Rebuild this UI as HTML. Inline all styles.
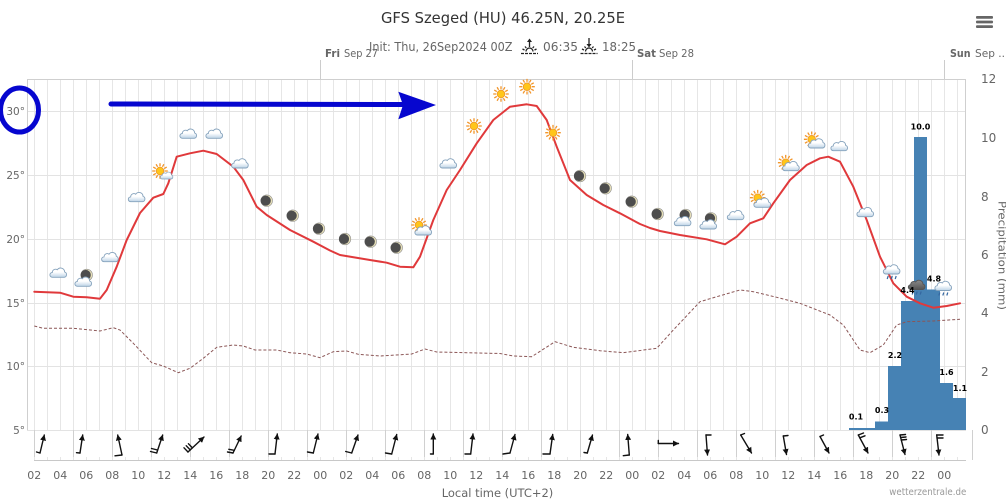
<!DOCTYPE html>
<html><head><meta charset="utf-8"><style>
html,body{margin:0;padding:0;background:#fff;}
svg{display:block;}
text{font-family:"DejaVu Sans","Liberation Sans",sans-serif;}
</style></head><body>
<svg width="1006" height="500" viewBox="0 0 1006 500" xmlns="http://www.w3.org/2000/svg">
<defs>
<linearGradient id="cg" x1="0" y1="0" x2="0" y2="1"><stop offset="0.45" stop-color="#ffffff"/><stop offset="1" stop-color="#bcd3e6"/></linearGradient>
<linearGradient id="dg" x1="0" y1="0" x2="0" y2="1"><stop offset="0" stop-color="#8a8a8a"/><stop offset="1" stop-color="#555"/></linearGradient>
<pattern id="vg" x="34" y="0" width="13" height="500" patternUnits="userSpaceOnUse"><rect x="0" y="0" width="1" height="500" fill="#e6e6e6"/></pattern>
<marker id="ah" markerWidth="6" markerHeight="6" refX="5.5" refY="3" orient="auto" markerUnits="userSpaceOnUse"><path d="M0,0 L6,3 L0,6 z" fill="#111"/></marker>
<g id="cl"><path d="M-6,4 H6 A2.8,2.8 0 0 0 6.3,-1.4 A4,4 0 0 0 -1,-3.5 A3.2,3.2 0 0 0 -6,-0.8 A2.4,2.4 0 0 0 -6,4 Z" fill="url(#cg)" stroke="#86a3bd" stroke-width="0.9"/></g>
<g id="sn"><path d="M4.8,0H7.8 M4.16,2.4L6.75,3.9 M2.4,4.16L3.9,6.75 M0,4.8V7.8 M-2.4,4.16L-3.9,6.75 M-4.16,2.4L-6.75,3.9 M-4.8,0H-7.8 M-4.16,-2.4L-6.75,-3.9 M-2.4,-4.16L-3.9,-6.75 M0,-4.8V-7.8 M2.4,-4.16L3.9,-6.75 M4.16,-2.4L6.75,-3.9" stroke="#f2952a" stroke-width="1.3"/><circle r="3.8" fill="#ffc61a" stroke="#f09a2a" stroke-width="0.9"/></g>
<g id="mn"><circle r="5.8" fill="#e6dfb8" stroke="#8a8a8a" stroke-width="0.6"/><circle cx="-1" r="5.1" fill="#4d4d4d"/></g>
<g id="rc"><use href="#cl"/><path d="M-3.5,6 L-4.5,9 M0.5,6 L-0.5,9 M4.5,6 L3.5,9" stroke="#3567a0" stroke-width="1.2"/></g>
<g id="dc"><path d="M-6,4 H6 A2.8,2.8 0 0 0 6.3,-1.4 A4,4 0 0 0 -1,-3.5 A3.2,3.2 0 0 0 -6,-0.8 A2.4,2.4 0 0 0 -6,4 Z" fill="url(#dg)" stroke="#555" stroke-width="0.9"/><path d="M-3.5,6 L-4.5,9 M0.5,6 L-0.5,9 M4.5,6 L3.5,9" stroke="#3567a0" stroke-width="1.2"/></g>
</defs>

<!-- title -->
<text x="381" y="23" font-size="15" fill="#333" textLength="244" lengthAdjust="spacingAndGlyphs">GFS Szeged (HU) 46.25N, 20.25E</text>
<text x="369" y="51" font-size="12" fill="#666" textLength="143.5" lengthAdjust="spacingAndGlyphs">Init: Thu, 26Sep2024 00Z</text>
<g stroke="#222" stroke-width="1.3" fill="none">
<path d="M529.5,47 V41"/><path d="M526,51.5 A3.5,3.5 0 0 1 533,51.5"/><path d="M522.5,49 L524.5,50 M536.5,49 L534.5,50 M525,46.5 L526.3,48 M534,46.5 L532.7,48"/><path d="M521,53.5 H538" stroke-dasharray="3 1"/>
<path d="M589,38 V45"/><path d="M585.5,51.5 A3.5,3.5 0 0 1 592.5,51.5"/><path d="M582,49 L584,50 M596,49 L594,50 M584.5,46.5 L585.8,48 M593.5,46.5 L592.2,48"/><path d="M580.5,53.5 H597.5" stroke-dasharray="3 1"/>
</g>
<path d="M527,42 L529.5,38.5 L532,42 Z M586.5,44 L589,47.5 L591.5,44 Z" fill="#222"/>
<text x="543" y="51" font-size="12" fill="#666" textLength="35" lengthAdjust="spacingAndGlyphs">06:35</text>
<text x="602" y="51" font-size="12" fill="#666" textLength="34" lengthAdjust="spacingAndGlyphs">18:25</text>

<!-- day labels -->
<g font-size="10.5" fill="#666">
<text x="325" y="57" font-weight="bold" textLength="15" lengthAdjust="spacingAndGlyphs">Fri</text>
<text x="344" y="57" textLength="34" lengthAdjust="spacingAndGlyphs">Sep 27</text>
<text x="637" y="57" font-weight="bold" textLength="19" lengthAdjust="spacingAndGlyphs">Sat</text>
<text x="659" y="57" textLength="35" lengthAdjust="spacingAndGlyphs">Sep 28</text>
<text x="950" y="57" font-weight="bold" textLength="20.5" lengthAdjust="spacingAndGlyphs">Sun</text>
<text x="975" y="57" textLength="30" lengthAdjust="spacingAndGlyphs">Sep ..</text>
</g>
<path d="M320.5,60 V79 M632.5,60 V79 M944.5,60 V79" stroke="#ccc" stroke-width="1"/>

<!-- hamburger -->
<g fill="#666"><rect x="976" y="16" width="17" height="2.8" rx="1"/><rect x="976" y="20.6" width="17" height="2.8" rx="1"/><rect x="976" y="25.2" width="17" height="2.8" rx="1"/></g>

<!-- grid -->
<rect x="34" y="79" width="925" height="351" fill="url(#vg)"/>
<path d="M27,111.5 H966 M27,175.5 H966 M27,239.5 H966 M27,303.5 H966 M27,366.5 H966 M27,430.5 H966" stroke="#e3e3e3" stroke-width="1"/>
<path d="M27,79.5 H966 M27.5,79 V430 M965.5,79 V430" stroke="#cfcfcf" stroke-width="1"/>

<!-- left axis labels -->
<g font-size="10.5" fill="#666" text-anchor="end">
<text x="25" y="115">30°</text><text x="25" y="179">25°</text><text x="25" y="243">20°</text><text x="25" y="307">15°</text><text x="25" y="370">10°</text><text x="25" y="434">5°</text>
</g>
<!-- right axis labels -->
<g font-size="12" fill="#666">
<text x="981" y="83">12</text><text x="981" y="142">10</text><text x="981" y="201">8</text><text x="981" y="259">6</text><text x="981" y="317">4</text><text x="981" y="376">2</text><text x="981" y="434">0</text>
</g>
<text transform="translate(998.5,201) rotate(90)" font-size="11" fill="#666" textLength="109" lengthAdjust="spacingAndGlyphs">Precipitation (mm)</text>

<!-- precipitation bars -->
<g fill="#4682b4">
<rect x="849" y="428" width="26" height="2"/>
<rect x="875" y="421.5" width="13" height="8.5"/>
<rect x="888" y="366" width="13" height="64"/>
<rect x="901" y="301" width="13" height="129"/>
<rect x="914" y="137" width="13" height="293"/>
<rect x="927" y="289.5" width="13" height="140.5"/>
<rect x="940" y="383" width="13" height="47"/>
<rect x="953" y="398" width="13" height="32"/>
</g>

<!-- dew point -->
<polyline fill="none" stroke="#8b5656" stroke-width="1" stroke-dasharray="3 2" points="34.3,326 43.3,328.3 73.3,328.3 100,331 113.3,327.7 120,330 133.3,343.3 151.7,362.7 163.3,366 178.3,372.7 190,368.3 203.3,358.3 216.7,347.3 233.3,345 243.3,346 255,350 276.7,350 290,352.7 306.7,354 320,357.7 333.3,351.7 346.7,351 358.3,354.3 380,356 411.7,354 425,349 436.7,352 466.7,352.7 500,353.5 513.3,356 531.7,356.7 555,341.7 573.3,347.3 600,350.7 623.3,352.7 656.7,348.3 673.3,330 700,301.7 716.7,296.7 740,290 753.3,291.7 776.7,297.3 800,303.3 830,315 843.3,325 860,350 870,352.7 883.3,345 896.7,325 906.7,321.7 933.3,321 960,319.3"/>

<!-- temperature -->
<polyline fill="none" stroke="#e0393b" stroke-width="2" stroke-linejoin="round" stroke-linecap="round" points="34.3,291.7 60,292.7 73.3,296.7 86.7,297.3 100,298.7 106.7,290 116.7,266.7 126.7,240 140,213 153.3,197.7 163.3,194 168.3,183.3 176.7,156.7 190,153.3 203.3,150.7 216.7,154 233.3,166.7 243.3,180 256.7,206.7 266.7,215 290,230 313.3,241.7 330,250.5 340,255 370,260 386.7,262.7 400,266.7 413.3,267.3 420,256.7 433.3,220 446.7,190 460,170 476.7,143.3 493.3,120 510,106.7 526.7,104.3 536.7,106 546.7,120 556.7,146.7 570,180 586.7,195 603.3,205 620,213.3 640,224 650,228 660,231 680,235 706.7,239.3 725,244.3 736.7,236.7 750,223.3 763.3,218.3 773.3,203.3 790,180 806.7,165 820,158.3 828.3,156.7 840,161.7 853.3,186.7 866.7,220 880,256.7 893.3,283.3 906.7,296.7 920,303.3 933.3,307.7 946.7,306 960,303.3"/>

<!-- weather icons -->
<use href="#cl" x="58.3" y="273.3"/>
<use href="#mn" x="86.7" y="275"/><use href="#cl" x="83.3" y="282.3"/>
<use href="#cl" x="110" y="257.7"/>
<use href="#cl" x="136.7" y="197.7"/>
<use href="#sn" x="160" y="171"/><g transform="translate(166.7,176) scale(0.75)"><use href="#cl"/></g>
<use href="#cl" x="188.3" y="134.3"/>
<use href="#cl" x="214.3" y="134.3"/>
<use href="#cl" x="240" y="164"/>
<use href="#mn" x="266.7" y="200.7"/>
<use href="#mn" x="292.7" y="215.7"/>
<use href="#mn" x="319" y="228.7"/>
<use href="#mn" x="345" y="239"/>
<use href="#mn" x="370.7" y="241.7"/>
<use href="#mn" x="396.7" y="247.7"/>
<use href="#sn" x="419" y="225"/><use href="#cl" x="423.3" y="231"/>
<use href="#cl" x="448.3" y="164"/>
<use href="#sn" x="474" y="126"/>
<use href="#sn" x="501" y="94"/>
<use href="#sn" x="527" y="86.7"/>
<use href="#sn" x="553" y="132.7"/>
<use href="#mn" x="580" y="176"/>
<use href="#mn" x="605.7" y="188.3"/>
<use href="#mn" x="631.7" y="201.7"/>
<use href="#mn" x="657.7" y="214"/>
<use href="#mn" x="685.7" y="215"/><use href="#cl" x="682.7" y="221.7"/>
<use href="#mn" x="711" y="218.3"/><use href="#cl" x="708.3" y="225"/>
<use href="#cl" x="735.7" y="215.7"/>
<use href="#sn" x="757.7" y="197.7"/><use href="#cl" x="762.3" y="203.3"/>
<use href="#sn" x="785.7" y="162.7"/><use href="#cl" x="791" y="166.7"/>
<use href="#sn" x="811.7" y="139.3"/><use href="#cl" x="816.7" y="144"/>
<use href="#cl" x="839.3" y="146.7"/>
<use href="#cl" x="865.3" y="212.7"/>
<use href="#rc" x="891.7" y="270"/>
<use href="#dc" x="916.7" y="285.5"/>
<use href="#rc" x="943.3" y="286.5"/>

<!-- bar labels -->
<g font-size="8" font-weight="bold" fill="#000" text-anchor="middle">
<text x="856" y="419.5">0.1</text>
<text x="882" y="413">0.3</text>
<text x="895" y="358">2.2</text>
<text x="907.5" y="293">4.4</text>
<text x="920.5" y="129.5">10.0</text>
<text x="934" y="281.5">4.8</text>
<text x="946.5" y="375">1.6</text>
<text x="960" y="391">1.1</text>
</g>

<!-- wind strip -->
<path d="M34.5,430 V460 M73.5,430 V460 M112.5,430 V460 M151.5,430 V460 M190.5,430 V460 M229.5,430 V460 M268.5,430 V460 M307.5,430 V460 M346.5,430 V460 M385.5,430 V460 M424.5,430 V460 M463.5,430 V460 M502.5,430 V460 M541.5,430 V460 M580.5,430 V460 M619.5,430 V460 M658.5,430 V460 M697.5,430 V460 M736.5,430 V460 M775.5,430 V460 M814.5,430 V460 M853.5,430 V460 M892.5,430 V460 M931.5,430 V460 M972.5,430 V460" stroke="#d0d0d0" stroke-width="1"/>
<path d="M34,460.5 H966" stroke="#c8c8c8" stroke-width="1"/>
<rect x="34" y="457" width="925" height="3" fill="url(#vg)"/>

<g stroke="#111" stroke-width="1.4" fill="none" stroke-linecap="round">
<line x1="40" y1="453" x2="44.3" y2="435" marker-end="url(#ah)"/><path d="M40,453 L36.5,452"/>
<line x1="80" y1="453" x2="82.7" y2="435" marker-end="url(#ah)"/><path d="M80,453 L76.5,452.7"/>
<line x1="122" y1="455" x2="117.7" y2="435" marker-end="url(#ah)"/><path d="M122,455 L115,455.8"/>
<line x1="156.7" y1="453" x2="162.7" y2="435" marker-end="url(#ah)"/><path d="M156.7,453 L150.5,451.5 M157.5,450 L151.5,448.5"/>
<line x1="188" y1="452" x2="204" y2="437" marker-end="url(#ah)"/><path d="M188,452 L184,447.8 M190.2,449.9 L186.2,445.7 M192.4,447.9 L188.4,443.7"/>
<line x1="233" y1="453" x2="241.2" y2="436" marker-end="url(#ah)"/><path d="M233,453 L227.5,452 M234.3,450.3 L228.8,449.3"/>
<line x1="275" y1="454" x2="277.3" y2="434" marker-end="url(#ah)"/><path d="M275,454 L269,454"/>
<line x1="313.3" y1="453" x2="318" y2="434" marker-end="url(#ah)"/><path d="M313.3,453 L307.5,452"/>
<line x1="351.7" y1="453" x2="358" y2="435" marker-end="url(#ah)"/><path d="M351.7,453 L345.7,451.5"/>
<line x1="391.7" y1="454" x2="396.7" y2="434.5" marker-end="url(#ah)"/><path d="M391.7,454 L385.5,453"/>
<line x1="433.3" y1="454" x2="433.3" y2="434" marker-end="url(#ah)"/><path d="M433.3,454 L430.5,454"/>
<line x1="470.7" y1="454" x2="473" y2="434" marker-end="url(#ah)"/><path d="M470.7,454 L465,454"/>
<line x1="510" y1="453" x2="515" y2="434.5" marker-end="url(#ah)"/><path d="M510,453 L503,454"/>
<line x1="550" y1="454" x2="552.7" y2="434.5" marker-end="url(#ah)"/><path d="M550,454 L543,454"/>
<line x1="587.3" y1="453" x2="592.5" y2="435" marker-end="url(#ah)"/><path d="M587.3,453 L584,452.5"/>
<line x1="629.3" y1="455" x2="627.7" y2="434.5" marker-end="url(#ah)"/><path d="M629.3,455 L623.3,455.7"/>
<line x1="658.3" y1="443.5" x2="678.5" y2="443.5" marker-end="url(#ah)"/><path d="M658.3,443.5 L658.3,440.5"/>
<line x1="706" y1="435" x2="707.5" y2="455" marker-end="url(#ah)"/><path d="M706,435 L711,435"/>
<line x1="740.7" y1="435" x2="751.5" y2="453" marker-end="url(#ah)"/><path d="M740.7,435 L744.5,433.5"/>
<line x1="783.3" y1="436" x2="786.5" y2="454.5" marker-end="url(#ah)"/><path d="M783.3,436 L788,435.5"/>
<line x1="820" y1="436.5" x2="829" y2="453" marker-end="url(#ah)"/><path d="M820,436.5 L823.5,435"/>
<line x1="858.3" y1="435" x2="868" y2="453" marker-end="url(#ah)"/><path d="M858.3,435 L863.5,433 M859.8,437.8 L865,435.8"/>
<line x1="900" y1="435" x2="905" y2="454.5" marker-end="url(#ah)"/><path d="M900,435 L905.5,434.5 M900.6,437.5 L906,437 M901.2,440 L906.5,439.5"/>
<line x1="936.7" y1="435" x2="939" y2="455" marker-end="url(#ah)"/><path d="M936.7,435 L943,435 M937,438 L943,438"/>
</g>

<!-- x labels -->
<g font-size="11" fill="#666" text-anchor="middle">
<text x="34.3" y="479">02</text><text x="60.3" y="479">04</text><text x="86.3" y="479">06</text><text x="112.3" y="479">08</text><text x="138.3" y="479">10</text><text x="164.3" y="479">12</text><text x="190.3" y="479">14</text><text x="216.3" y="479">16</text><text x="242.3" y="479">18</text><text x="268.3" y="479">20</text><text x="294.3" y="479">22</text><text x="320.3" y="479">00</text>
<text x="346.3" y="479">02</text><text x="372.3" y="479">04</text><text x="398.3" y="479">06</text><text x="424.3" y="479">08</text><text x="450.3" y="479">10</text><text x="476.3" y="479">12</text><text x="502.3" y="479">14</text><text x="528.3" y="479">16</text><text x="554.3" y="479">18</text><text x="580.3" y="479">20</text><text x="606.3" y="479">22</text><text x="632.3" y="479">00</text>
<text x="658.3" y="479">02</text><text x="684.3" y="479">04</text><text x="710.3" y="479">06</text><text x="736.3" y="479">08</text><text x="762.3" y="479">10</text><text x="788.3" y="479">12</text><text x="814.3" y="479">14</text><text x="840.3" y="479">16</text><text x="866.3" y="479">18</text><text x="892.3" y="479">20</text><text x="918.3" y="479">22</text><text x="944.3" y="479">00</text>
</g>
<text x="441.7" y="497" font-size="11.5" fill="#666" textLength="111.6" lengthAdjust="spacingAndGlyphs">Local time (UTC+2)</text>
<text x="889.3" y="495" font-size="9.5" fill="#999" textLength="77" lengthAdjust="spacingAndGlyphs">wetterzentrale.de</text>

<!-- annotation -->
<ellipse cx="19.5" cy="110" rx="19" ry="22" fill="none" stroke="#0606cf" stroke-width="5"/>
<line x1="111" y1="104" x2="404" y2="104.5" stroke="#0606cf" stroke-width="5" stroke-linecap="round"/>
<polygon points="398.3,91.7 436,105 398.3,119.3 403,105" fill="#0606cf"/>
</svg>
</body></html>
